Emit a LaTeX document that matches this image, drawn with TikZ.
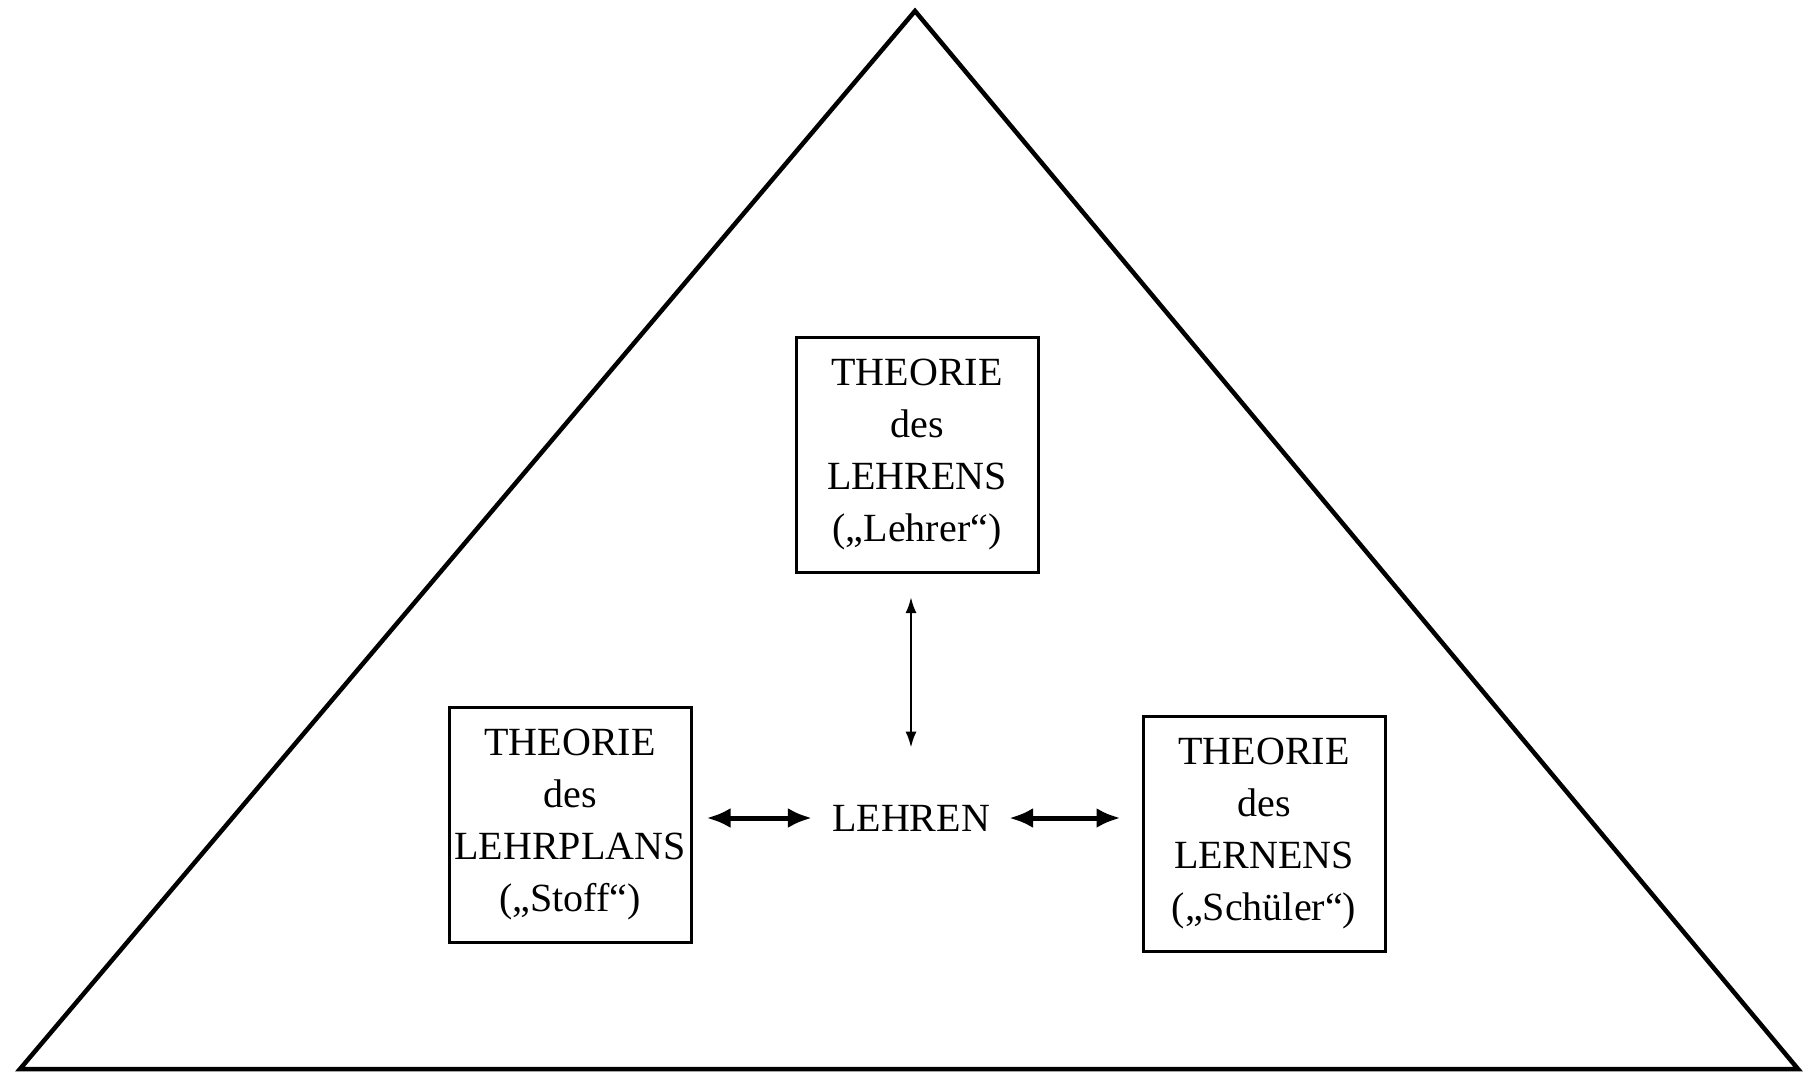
\documentclass[tikz,border=0pt]{standalone}
\usepackage{fontspec}
\setmainfont{Liberation Serif}
\usetikzlibrary{arrows.meta,positioning}

\tikzset{
	theory/.style={draw, line width=3pt, align=center, inner sep=0pt,
		minimum width=242pt, minimum height=235pt,
		font=\fontsize{40}{52}\selectfont},
	centre/.style={inner sep=0pt, font=\fontsize{40}{52}\selectfont},
	thinlink/.style={{Latex[length=16pt,width=11pt]}-{Latex[length=16pt,width=11pt]}, line width=2.5pt},
	boldlink/.style={{Latex[length=24pt,width=20pt]}-{Latex[length=24pt,width=20pt]}, line width=5pt}
}

\begin{document}
\begin{tikzpicture}[x=1pt, y=-1pt]
		\useasboundingbox (0,0) rectangle (1807,1074);
		% the outer triangle
		\draw [line width=4.5pt] (915,11) -- (1798,1069) -- (20,1069) -- cycle;

		\node [centre] (lehren) at (911,818) {LEHREN};
		\node [theory] (lehrer) at (917,455) {THEORIE\\des\\LEHRENS\\(„Lehrer“)};
		\node [theory] (stoff) at (570,825) {THEORIE\\des\\LEHRPLANS\\(„Stoff“)};
		\node [theory] (schueler) at (1264,834) {THEORIE\\des\\LERNENS\\(„Schüler“)};

		% links to the middle
		\draw [thinlink, shorten <=23pt, shorten >=57pt] (lehrer.south -| lehren) -- (lehren.north);
		\draw [boldlink, shorten <=14pt, shorten >=20pt] (stoff.east |- lehren) -- (lehren.west);
		\draw [boldlink, shorten <=19pt, shorten >=21pt] (lehren.east) -- (schueler.west |- lehren);
	\end{tikzpicture}
\end{document}
